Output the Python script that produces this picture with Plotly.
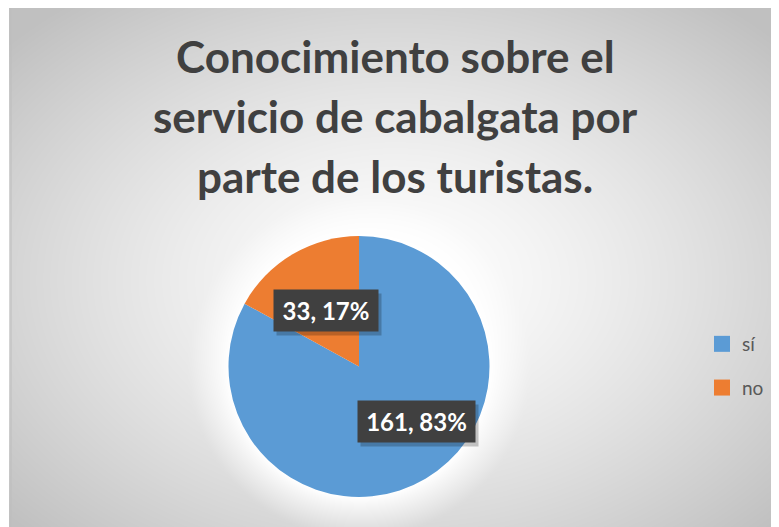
import numpy as np
import plotly.graph_objects as go

labels = ["sí", "no"]
values = [161, 33]
colors = ["#5B9BD5", "#ED7D31"]
title_lines = ["Conocimiento sobre el", "servicio de cabalgata por", "parte de los turistas."]

# the page body adds an 8px margin, so the figure is 8px smaller than the window
OFF = 8
W, H = 779 - OFF, 527 - OFF
CX, CY, R = 359, 366.5, 130.5  # pie centre / radius in window px


def px(x):
    return (x - OFF) / W


def py(y):
    return 1 - (y - OFF) / H


# background: radial grey gradient + white glow round the pie
gx = np.arange(11, 782, 4)
gy = np.arange(7, 530, 4)
X, Y = np.meshgrid(gx, gy)
d = np.sqrt(((X - 395) / 384) ** 2 + ((Y - 280) / 265) ** 2) / np.sqrt(2)
zb = np.clip(d * 1.05, 0, 1) ** 1.35
glow = np.clip((np.hypot(X - CX, Y - CY) - R) / 40, 0, 1) ** 0.8
zb = zb * glow

fig = go.Figure()
fig.add_trace(go.Heatmap(x=gx, y=gy, z=zb, zmin=0, zmax=1, zsmooth="best",
                         colorscale=[[0, "#ffffff"], [1, "#c0c0c0"]],
                         showscale=False, hoverinfo="skip"))

fig.add_trace(go.Pie(labels=labels, values=values, sort=False, direction="clockwise", rotation=0,
                     marker=dict(colors=colors, line=dict(width=0)), textinfo="none",
                     showlegend=False, hoverinfo="label+value+percent",
                     domain=dict(x=[px(CX - R), px(CX + R)], y=[py(CY + R), py(CY - R)])))

# legend via dummy traces so the spacing can be widened
for lab, col in zip(labels, colors):
    fig.add_trace(go.Scatter(x=[None], y=[None], mode="markers", name=lab, legendgroup=lab,
                             marker=dict(symbol="square", size=16, color=col)))

# data labels: (radius fraction, angle shift in degrees) per slice
label_pos = [(0.61, -15.7), (0.50, 0.0)]
box_w = [105, 92]
total = sum(values)
start = 0.0
for v, (f, shift), bw in zip(values, label_pos, box_w):
    mid = np.radians((start + v / 2) / total * 360 + shift)
    start += v
    lx = CX + f * R * np.sin(mid)
    ly = CY - f * R * np.cos(mid)
    txt = f"{v}, {round(100 * v / total)}%"
    # soft shadow box, then the label box
    fig.add_annotation(x=px(lx + 3), y=py(ly + 4), xref="paper", yref="paper",
                       xanchor="center", yanchor="middle", width=bw, height=29,
                       text=" ", showarrow=False, bgcolor="rgba(0,0,0,0.22)", borderpad=6)
    fig.add_annotation(x=px(lx), y=py(ly), xref="paper", yref="paper",
                       xanchor="center", yanchor="middle", width=bw, height=29,
                       text=f"<b>{txt}</b>", showarrow=False, bgcolor="#404040", borderpad=6,
                       font=dict(family="Lato", size=24, color="white"))

for i, line in enumerate(title_lines):
    fig.add_annotation(x=px(395), y=py(56 + 60 * i), xref="paper", yref="paper",
                       xanchor="center", yanchor="middle",
                       text=f"<b>{line}</b>", showarrow=False,
                       font=dict(family="Lato", size=44, color="#404040"))

# chart area border (top / left edge)
fig.add_shape(type="rect", xref="x", yref="y", x0=11, y0=7, x1=790, y1=540,
              line=dict(color="#bdbdbd", width=1))

fig.update_layout(
    width=W, height=H, margin=dict(l=0, r=0, t=0, b=0),
    paper_bgcolor="white", plot_bgcolor="white",
    xaxis=dict(range=[OFF, 779], visible=False, domain=[0, 1], fixedrange=True),
    yaxis=dict(range=[527, OFF], visible=False, domain=[0, 1], fixedrange=True),
    legend=dict(x=px(702), y=py(325), xanchor="left", yanchor="top", bgcolor="rgba(0,0,0,0)",
                font=dict(family="Lato", size=19, color="#595959"), tracegroupgap=16, itemwidth=30),
)

fig.write_html("out.html")
